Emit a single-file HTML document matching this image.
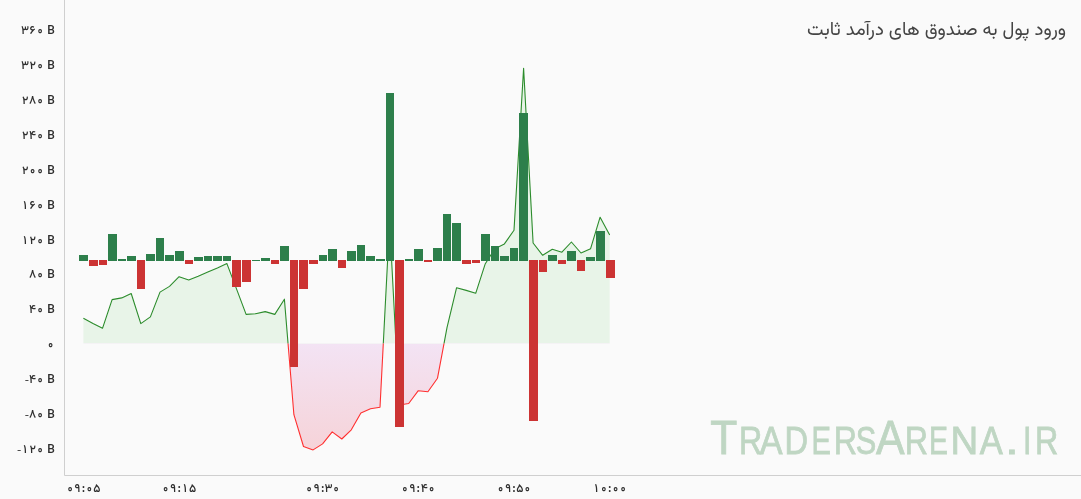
<!DOCTYPE html>
<html lang="fa"><head><meta charset="utf-8"><title>ورود پول به صندوق های درآمد ثابت</title>
<style>
html,body{margin:0;padding:0;background:#fafafa;}
body{width:1081px;height:499px;overflow:hidden;position:relative;font-family:Vazirmatn, "Liberation Sans", "DejaVu Sans", sans-serif;}
svg{position:absolute;left:0;top:0;display:block}
text{font-family:Vazirmatn, "Liberation Sans", "DejaVu Sans", sans-serif;}
.lb{font-size:12px;font-weight:500;fill:#2e2e2e;text-anchor:middle;direction:ltr}
.title{font-size:18.6px;fill:#444;text-anchor:start;direction:rtl}
.wm text{font-family:"Liberation Sans",sans-serif;fill:#bfd6c3;stroke:#bfd6c3;stroke-width:0.8px;text-anchor:middle}
</style></head><body>
<svg width="1081" height="499" viewBox="0 0 1081 499">
<defs>
<linearGradient id="neg" x1="0" y1="343.5" x2="0" y2="452" gradientUnits="userSpaceOnUse">
<stop offset="0" stop-color="#f3e3f4"/><stop offset="1" stop-color="#f6d3d8"/></linearGradient>
<clipPath id="above"><rect x="0" y="0" width="1081" height="343.5"/></clipPath>
<clipPath id="below"><rect x="0" y="343.5" width="1081" height="155.5"/></clipPath>
</defs>
<rect width="1081" height="499" fill="#fafafa"/>
<path d="M83.4,343.5 L83.4,318.2 L93.0,323.6 L102.5,328.3 L112.1,299.6 L121.7,297.9 L131.2,293.5 L140.8,323.6 L150.4,316.9 L160.0,292.1 L169.5,286.4 L179.1,276.7 L188.7,280.0 L198.2,276.3 L207.8,272.1 L217.4,268.0 L226.9,263.6 L236.5,288.9 L246.1,314.4 L255.6,313.7 L265.2,311.6 L274.8,314.4 L284.4,299.2 L293.9,414.7 L303.5,446.5 L313.1,449.9 L322.6,443.9 L332.2,431.9 L341.8,439.0 L351.3,429.8 L360.9,412.9 L370.5,408.7 L380.0,407.2 L389.6,222.0 L399.2,405.0 L408.7,403.5 L418.3,390.7 L427.9,391.8 L437.5,378.2 L447.0,327.7 L456.6,287.7 L466.2,290.4 L475.7,293.3 L485.3,263.7 L494.9,248.7 L504.4,243.9 L514.0,230.3 L523.6,68.2 L533.1,243.0 L542.7,255.3 L552.3,249.2 L561.9,252.2 L571.4,242.0 L581.0,253.0 L590.6,248.7 L600.1,217.2 L609.7,235.0 L609.7,343.5 Z" fill="#e8f4e8" clip-path="url(#above)"/>
<path d="M83.4,343.5 L83.4,318.2 L93.0,323.6 L102.5,328.3 L112.1,299.6 L121.7,297.9 L131.2,293.5 L140.8,323.6 L150.4,316.9 L160.0,292.1 L169.5,286.4 L179.1,276.7 L188.7,280.0 L198.2,276.3 L207.8,272.1 L217.4,268.0 L226.9,263.6 L236.5,288.9 L246.1,314.4 L255.6,313.7 L265.2,311.6 L274.8,314.4 L284.4,299.2 L293.9,414.7 L303.5,446.5 L313.1,449.9 L322.6,443.9 L332.2,431.9 L341.8,439.0 L351.3,429.8 L360.9,412.9 L370.5,408.7 L380.0,407.2 L389.6,222.0 L399.2,405.0 L408.7,403.5 L418.3,390.7 L427.9,391.8 L437.5,378.2 L447.0,327.7 L456.6,287.7 L466.2,290.4 L475.7,293.3 L485.3,263.7 L494.9,248.7 L504.4,243.9 L514.0,230.3 L523.6,68.2 L533.1,243.0 L542.7,255.3 L552.3,249.2 L561.9,252.2 L571.4,242.0 L581.0,253.0 L590.6,248.7 L600.1,217.2 L609.7,235.0 L609.7,343.5 Z" fill="url(#neg)" clip-path="url(#below)"/>
<polyline points="83.4,318.2 93.0,323.6 102.5,328.3 112.1,299.6 121.7,297.9 131.2,293.5 140.8,323.6 150.4,316.9 160.0,292.1 169.5,286.4 179.1,276.7 188.7,280.0 198.2,276.3 207.8,272.1 217.4,268.0 226.9,263.6 236.5,288.9 246.1,314.4 255.6,313.7 265.2,311.6 274.8,314.4 284.4,299.2 293.9,414.7 303.5,446.5 313.1,449.9 322.6,443.9 332.2,431.9 341.8,439.0 351.3,429.8 360.9,412.9 370.5,408.7 380.0,407.2 389.6,222.0 399.2,405.0 408.7,403.5 418.3,390.7 427.9,391.8 437.5,378.2 447.0,327.7 456.6,287.7 466.2,290.4 475.7,293.3 485.3,263.7 494.9,248.7 504.4,243.9 514.0,230.3 523.6,68.2 533.1,243.0 542.7,255.3 552.3,249.2 561.9,252.2 571.4,242.0 581.0,253.0 590.6,248.7 600.1,217.2 609.7,235.0" fill="none" stroke="#2c8c2c" stroke-width="1.1" stroke-linejoin="round" clip-path="url(#above)"/>
<polyline points="83.4,318.2 93.0,323.6 102.5,328.3 112.1,299.6 121.7,297.9 131.2,293.5 140.8,323.6 150.4,316.9 160.0,292.1 169.5,286.4 179.1,276.7 188.7,280.0 198.2,276.3 207.8,272.1 217.4,268.0 226.9,263.6 236.5,288.9 246.1,314.4 255.6,313.7 265.2,311.6 274.8,314.4 284.4,299.2 293.9,414.7 303.5,446.5 313.1,449.9 322.6,443.9 332.2,431.9 341.8,439.0 351.3,429.8 360.9,412.9 370.5,408.7 380.0,407.2 389.6,222.0 399.2,405.0 408.7,403.5 418.3,390.7 427.9,391.8 437.5,378.2 447.0,327.7 456.6,287.7 466.2,290.4 475.7,293.3 485.3,263.7 494.9,248.7 504.4,243.9 514.0,230.3 523.6,68.2 533.1,243.0 542.7,255.3 552.3,249.2 561.9,252.2 571.4,242.0 581.0,253.0 590.6,248.7 600.1,217.2 609.7,235.0" fill="none" stroke="#ff3030" stroke-width="1.1" stroke-linejoin="round" clip-path="url(#below)"/>
<g shape-rendering="crispEdges">
<rect x="79" y="254.9" width="9" height="6.1" fill="#2d7f4b"/><rect x="89" y="260" width="9" height="5.8" fill="#cc3333"/><rect x="99" y="260" width="8" height="4.8" fill="#cc3333"/><rect x="108" y="234.0" width="9" height="27.0" fill="#2d7f4b"/><rect x="118" y="259.0" width="8" height="2.0" fill="#2d7f4b"/><rect x="127" y="256.0" width="9" height="5.0" fill="#2d7f4b"/><rect x="137" y="260" width="8" height="28.8" fill="#cc3333"/><rect x="146" y="254.0" width="9" height="7.0" fill="#2d7f4b"/><rect x="156" y="238.0" width="8" height="23.0" fill="#2d7f4b"/><rect x="165" y="254.9" width="9" height="6.1" fill="#2d7f4b"/><rect x="175" y="251.0" width="9" height="10.0" fill="#2d7f4b"/><rect x="185" y="260" width="8" height="3.9" fill="#cc3333"/><rect x="194" y="257.0" width="9" height="4.0" fill="#2d7f4b"/><rect x="204" y="256.3" width="8" height="4.7" fill="#2d7f4b"/><rect x="213" y="256.3" width="9" height="4.7" fill="#2d7f4b"/><rect x="223" y="256.3" width="8" height="4.7" fill="#2d7f4b"/><rect x="232" y="260" width="9" height="26.7" fill="#cc3333"/><rect x="242" y="260" width="9" height="21.8" fill="#cc3333"/><rect x="252" y="259.8" width="8" height="1.2" fill="#2d7f4b"/><rect x="261" y="258.1" width="9" height="2.9" fill="#2d7f4b"/><rect x="271" y="260" width="8" height="3.9" fill="#cc3333"/><rect x="280" y="246.0" width="9" height="15.0" fill="#2d7f4b"/><rect x="290" y="260" width="8" height="106.5" fill="#cc3333"/><rect x="299" y="260" width="9" height="28.8" fill="#cc3333"/><rect x="309" y="260" width="9" height="3.9" fill="#cc3333"/><rect x="319" y="255.0" width="8" height="6.0" fill="#2d7f4b"/><rect x="328" y="249.1" width="9" height="11.9" fill="#2d7f4b"/><rect x="338" y="260" width="8" height="7.8" fill="#cc3333"/><rect x="347" y="251.1" width="9" height="9.9" fill="#2d7f4b"/><rect x="357" y="245.0" width="8" height="16.0" fill="#2d7f4b"/><rect x="366" y="256.0" width="9" height="5.0" fill="#2d7f4b"/><rect x="376" y="259.0" width="9" height="2.0" fill="#2d7f4b"/><rect x="386" y="92.9" width="8" height="168.1" fill="#2d7f4b"/><rect x="395" y="260" width="9" height="166.7" fill="#cc3333"/><rect x="405" y="259.0" width="8" height="2.0" fill="#2d7f4b"/><rect x="414" y="249.1" width="9" height="11.9" fill="#2d7f4b"/><rect x="424" y="260" width="8" height="1.9" fill="#cc3333"/><rect x="433" y="248.1" width="9" height="12.9" fill="#2d7f4b"/><rect x="443" y="214.0" width="8" height="47.0" fill="#2d7f4b"/><rect x="452" y="223.1" width="9" height="37.9" fill="#2d7f4b"/><rect x="462" y="260" width="9" height="3.9" fill="#cc3333"/><rect x="472" y="260" width="8" height="2.9" fill="#cc3333"/><rect x="481" y="234.1" width="9" height="26.9" fill="#2d7f4b"/><rect x="491" y="246.0" width="8" height="15.0" fill="#2d7f4b"/><rect x="500" y="256.0" width="9" height="5.0" fill="#2d7f4b"/><rect x="510" y="248.1" width="8" height="12.9" fill="#2d7f4b"/><rect x="519" y="112.7" width="9" height="148.3" fill="#2d7f4b"/><rect x="529" y="260" width="9" height="160.6" fill="#cc3333"/><rect x="539" y="260" width="8" height="11.8" fill="#cc3333"/><rect x="548" y="255.0" width="9" height="6.0" fill="#2d7f4b"/><rect x="558" y="260" width="8" height="3.9" fill="#cc3333"/><rect x="567" y="251.1" width="9" height="9.9" fill="#2d7f4b"/><rect x="577" y="260" width="8" height="10.9" fill="#cc3333"/><rect x="586" y="257.0" width="9" height="4.0" fill="#2d7f4b"/><rect x="596" y="231.1" width="9" height="29.9" fill="#2d7f4b"/><rect x="606" y="260" width="9" height="17.7" fill="#cc3333"/>
</g>
<path d="M64.5,0 V475.5 H1081" fill="none" stroke="#cfcfcf" stroke-width="1"/>
<text class="lb" x="19.2" y="453.0" style="font-size:9px">-</text><text class="lb" x="25.1 32.6 40.1 45.5 51.1" y="452.7">۱۲۰ B</text>
<text class="lb" x="26.8" y="418.1" style="font-size:9px">-</text><text class="lb" x="32.6 40.1 45.5 51.1" y="417.8">۸۰ B</text>
<text class="lb" x="26.8" y="383.3" style="font-size:9px">-</text><text class="lb" x="32.6 40.1 45.5 51.1" y="383.0">۴۰ B</text>
<text class="lb" x="50.6" y="348.1">۰</text>
<text class="lb" x="32.6 40.1 45.5 51.1" y="313.2">۴۰ B</text>
<text class="lb" x="32.6 40.1 45.5 51.1" y="278.4">۸۰ B</text>
<text class="lb" x="25.1 32.6 40.1 45.5 51.1" y="243.5">۱۲۰ B</text>
<text class="lb" x="25.1 32.6 40.1 45.5 51.1" y="208.7">۱۶۰ B</text>
<text class="lb" x="25.1 32.6 40.1 45.5 51.1" y="173.8">۲۰۰ B</text>
<text class="lb" x="25.1 32.6 40.1 45.5 51.1" y="139.0">۲۴۰ B</text>
<text class="lb" x="25.1 32.6 40.1 45.5 51.1" y="104.1">۲۸۰ B</text>
<text class="lb" x="25.1 32.6 40.1 45.5 51.1" y="69.3">۳۲۰ B</text>
<text class="lb" x="25.1 32.6 40.1 45.5 51.1" y="34.4">۳۶۰ B</text>
<text class="lb" x="70.0 77.5 83.4 89.3 96.8" y="491.7">۰۹:۰۵</text>
<text class="lb" x="165.7 173.2 179.1 185.0 192.5" y="491.7">۰۹:۱۵</text>
<text class="lb" x="309.2 316.7 322.6 328.5 336.0" y="491.7">۰۹:۳۰</text>
<text class="lb" x="404.9 412.4 418.3 424.2 431.7" y="491.7">۰۹:۴۰</text>
<text class="lb" x="500.6 508.1 514.0 519.9 527.4" y="491.7">۰۹:۵۰</text>
<text class="lb" x="596.3 603.8 609.7 615.6 623.1" y="491.7">۱۰:۰۰</text>
<text class="title" x="1066" y="35" textLength="259" lengthAdjust="spacingAndGlyphs">ورود پول به صندوق های درآمد ثابت</text>
<g class="wm"><text transform="translate(723.8,454.3) scale(0.93,1)" font-size="47.6">T</text><text transform="translate(750.7,454.3) scale(0.84,1)" font-size="38.4">R</text><text transform="translate(771.2,454.3) scale(0.89,1)" font-size="38.4">A</text><text transform="translate(796.2,454.3) scale(0.85,1)" font-size="38.4">D</text><text transform="translate(821.3,454.3) scale(0.76,1)" font-size="38.4">E</text><text transform="translate(845.4,454.3) scale(0.84,1)" font-size="38.4">R</text><text transform="translate(866.1,454.3) scale(0.8,1)" font-size="38.4">S</text><text transform="translate(890.4,454.3) scale(0.9,1)" font-size="47.6">A</text><text transform="translate(916.3,454.3) scale(0.84,1)" font-size="38.4">R</text><text transform="translate(938.5,454.3) scale(0.74,1)" font-size="38.4">E</text><text transform="translate(964.4,454.3) scale(1.0,1)" font-size="38.4">N</text><text transform="translate(991.2,454.3) scale(0.9,1)" font-size="38.4">A</text><text transform="translate(1012,454.3) scale(1.3,1)" font-size="38.4">.</text><text transform="translate(1027.3,454.3) scale(0.8,1)" font-size="38.4">I</text><text transform="translate(1046.7,454.3) scale(0.84,1)" font-size="38.4">R</text></g>
</svg>
</body></html>
